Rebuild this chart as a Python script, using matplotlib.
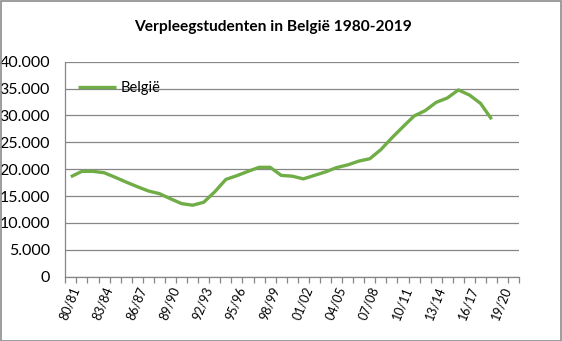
import matplotlib
matplotlib.use("Agg")
import matplotlib.pyplot as plt
from matplotlib.ticker import FuncFormatter, FixedLocator
from matplotlib.patches import Rectangle

# academic years 80/81 .. 20/21
years = ["%02d/%02d" % (y % 100, (y + 1) % 100) for y in range(1980, 2021)]

# number of nursing students per year (80/81 .. 18/19)
students = [18600, 19600, 19600, 19350, 18500, 17600, 16750, 15950, 15450, 14500,
            13600, 13300, 13850, 15800, 18100, 18800, 19600, 20350, 20350, 18850,
            18700, 18200, 18850, 19500, 20300, 20800, 21500, 21950, 23650, 25850,
            27900, 29900, 30900, 32450, 33250, 34750, 33800, 32250, 29300]

font = "Lato"
green = "#70ad47"
grid_col = "#868686"

fig = plt.figure(figsize=(5.62, 3.41), dpi=100)
ax = fig.add_axes([0.1162, 0.1886, 0.924 - 0.1162, 0.819 - 0.1886])

x = list(range(len(students)))
ax.plot(x, students, color=green, lw=2.4, solid_joinstyle="round",
        solid_capstyle="butt", label="België")

ax.set_xlim(-0.5, len(years) - 0.5)
ax.set_ylim(0, 40000)
ax.set_yticks(range(0, 40001, 5000))
ax.yaxis.set_major_formatter(FuncFormatter(lambda v, p: f"{int(v):,}".replace(",", ".")))
ax.grid(axis="y", color=grid_col, lw=0.9)
ax.set_axisbelow(True)

# labels every third year, tick marks between categories
ax.xaxis.set_major_locator(FixedLocator(range(0, len(years), 3)))
ax.set_xticklabels(years[::3], rotation=68, ha="right", rotation_mode="anchor",
                   fontsize=9, family=font)
ax.xaxis.set_minor_locator(FixedLocator([i - 0.5 for i in range(len(years) + 1)]))
ax.tick_params(axis="x", which="major", length=0, pad=6)
ax.tick_params(axis="x", which="minor", length=4, color=grid_col, width=0.9)
ax.tick_params(axis="y", length=0, pad=11, labelsize=11.5)
for lab in ax.get_yticklabels():
    lab.set_family(font)

for s in ["top", "right"]:
    ax.spines[s].set_visible(False)
for s in ["left", "bottom"]:
    ax.spines[s].set_color(grid_col)
    ax.spines[s].set_linewidth(0.9)

leg = ax.legend(loc="upper left", bbox_to_anchor=(0.0, 0.97), frameon=False,
                handlelength=2.6, handletextpad=0.3, prop={"family": font, "size": 10.5})

fig.text(0.485, 0.922, "Verpleegstudenten in België 1980-2019", ha="center", va="center",
         fontsize=11.2, fontweight="bold", family=font)

# chart area border
fig.patches.append(Rectangle((0.001, 0.001), 0.997, 0.996, transform=fig.transFigure,
                             fill=False, edgecolor="#8c8c8c", lw=1.2))

fig.savefig("out.png", dpi=100)
